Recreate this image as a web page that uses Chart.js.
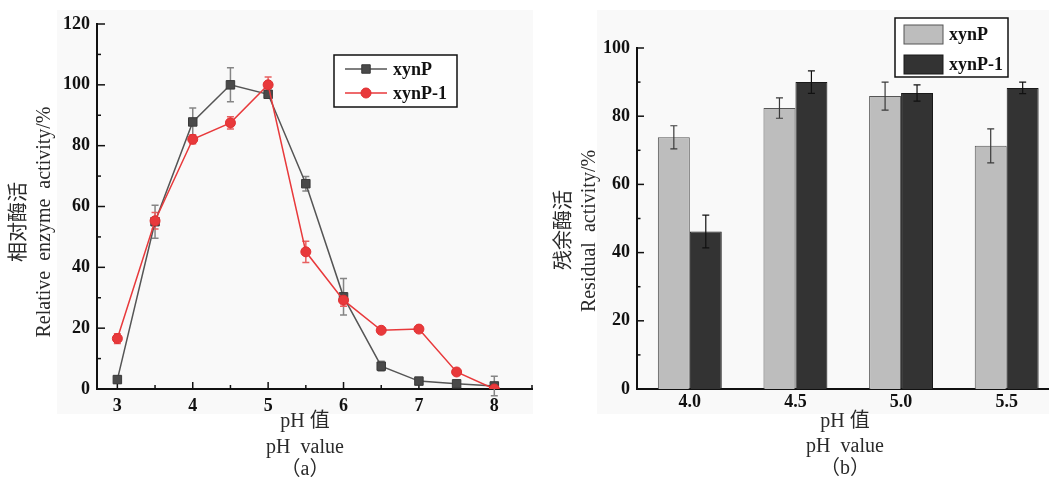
<!DOCTYPE html>
<html>
<head>
<meta charset="utf-8">
<script src="https://cdn.jsdelivr.net/npm/chart.js"></script>
<style>
  html, body { margin: 0; padding: 0; background: #fff; width: 1049px; height: 482px; overflow: hidden; }
  .panel { position: absolute; top: 10px; height: 404px; background: #f9f9f9; }
  canvas { position: absolute; top: 0; }
</style>
</head>
<body>
<div class="panel" style="left:57px;width:476px"></div>
<div class="panel" style="left:597px;width:452px"></div>
<canvas id="chartA" width="545" height="482" style="left:0"></canvas>
<canvas id="chartB" width="530" height="482" style="left:540px"></canvas>
<script>
// (a) relative activity vs pH
const phLine = [3, 3.5, 4, 4.5, 5, 5.5, 6, 6.5, 7, 7.5, 8];
const phTicks = [3, 4, 5, 6, 7, 8];
const xynPRel = [3.1, 55, 87.8, 100, 96.9, 67.5, 30.3, 7.5, 2.6, 1.7, 1.0];
const xynPRelErr = [1.2, 5.4, 4.6, 5.6, 1.0, 2.4, 6.0, 1.6, 1.0, 0.8, 3.2];
const xynP1Rel = [16.6, 55.3, 82.1, 87.5, 100, 45.1, 29.2, 19.3, 19.7, 5.6, 0];
const xynP1RelErr = [1.6, 2.7, 1.5, 2.0, 2.6, 3.5, 2.0, 0.6, 0.6, 0.6, 0];

// (b) residual activity
const phBar = ['4.0', '4.5', '5.0', '5.5'];
const xynPRes = [73.8, 82.4, 85.9, 71.3];
const xynPResErr = [3.4, 3.0, 4.1, 5.0];
const xynP1Res = [46.2, 90.0, 86.8, 88.3];
const xynP1ResErr = [4.8, 3.3, 2.4, 1.7];

const serif = "'Liberation Serif', 'Noto Sans CJK SC', serif";
const tickFont = { family: serif, size: 18, weight: 'bold' };

// tick marks pointing into the plot
const innerTicks = {
  id: 'innerTicks',
  beforeDatasetsDraw(chart, args, opts) {
    const ctx = chart.ctx;
    ctx.save();
    ctx.strokeStyle = '#111';
    ctx.lineWidth = 1.5;
    for (const id of Object.keys(opts.scales || {})) {
      const s = chart.scales[id];
      const o = opts.scales[id];
      const majors = s.ticks.map(t => t.value);
      const minors = majors.map(v => v + o.step).filter(v => v <= s.max + 1e-9);
      const mark = (v, len) => {
        const p = s.getPixelForValue(v);
        ctx.beginPath();
        if (s.isHorizontal()) { ctx.moveTo(p, s.top); ctx.lineTo(p, s.top - len); }
        else { ctx.moveTo(s.right, p); ctx.lineTo(s.right + len, p); }
        ctx.stroke();
      };
      majors.forEach(v => mark(v, o.major));
      minors.forEach(v => mark(v, o.minor));
    }
    ctx.restore();
  }
};

// error bars
function drawErrors(chart, opts) {
  const ctx = chart.ctx;
  ctx.save();
  ctx.lineWidth = opts.width || 1;
  chart.data.datasets.forEach((ds, i) => {
    if (!ds.errors) return;
    const meta = chart.getDatasetMeta(i);
    const ys = chart.scales[meta.yAxisID];
    ctx.strokeStyle = ds.errorColor;
    meta.data.forEach((el, j) => {
      const e = ds.errors[j];
      if (!e) return;
      const raw = ds.data[j];
      const v = typeof raw === 'object' ? raw.y : raw;
      const top = ys.getPixelForValue(v + e);
      const bot = ys.getPixelForValue(v - e);
      const x = el.x, c = opts.cap;
      ctx.beginPath();
      ctx.moveTo(x, top); ctx.lineTo(x, bot);
      ctx.moveTo(x - c, top); ctx.lineTo(x + c, top);
      ctx.moveTo(x - c, bot); ctx.lineTo(x + c, bot);
      ctx.stroke();
    });
  });
  ctx.restore();
}
const errorBars = {
  id: 'errorBars',
  beforeDatasetsDraw(chart, args, opts) { if (opts.layer === 'under') drawErrors(chart, opts); },
  afterDatasetsDraw(chart, args, opts) { if (opts.layer !== 'under') drawErrors(chart, opts); }
};

// axis titles / captions
const captions = {
  id: 'captions',
  afterDraw(chart, args, opts) {
    const ctx = chart.ctx;
    ctx.save();
    ctx.fillStyle = '#2a2a2a';
    ctx.font = '20px ' + serif;
    ctx.textAlign = 'center';
    ctx.textBaseline = 'middle';
    for (const c of opts.items) {
      ctx.save();
      ctx.translate(c.x, c.y);
      if (c.rotate) ctx.rotate(-Math.PI / 2);
      ctx.fillText(c.text, 0, 0);
      ctx.restore();
    }
    ctx.restore();
  }
};

// framed legend
const boxLegend = {
  id: 'boxLegend',
  afterDraw(chart, args, opts) {
    const ctx = chart.ctx;
    const b = opts.box;
    ctx.save();
    ctx.fillStyle = '#fff';
    ctx.fillRect(b.x, b.y, b.w, b.h);
    ctx.strokeStyle = '#111';
    ctx.lineWidth = 1.5;
    ctx.strokeRect(b.x, b.y, b.w, b.h);
    chart.data.datasets.forEach((ds, i) => {
      const y = opts.rows[i];
      if (opts.kind === 'line') {
        ctx.strokeStyle = ds.borderColor;
        ctx.lineWidth = ds.borderWidth;
        ctx.beginPath();
        ctx.moveTo(opts.sample[0], y); ctx.lineTo(opts.sample[1], y);
        ctx.stroke();
        ctx.fillStyle = ds.pointBackgroundColor;
        ctx.strokeStyle = ds.pointBorderColor;
        ctx.lineWidth = 1;
        Chart.helpers.drawPoint(ctx, { pointStyle: ds.pointStyle, radius: ds.pointRadius, borderWidth: 1, rotation: 0 },
          (opts.sample[0] + opts.sample[1]) / 2, y);
      } else {
        ctx.fillStyle = ds.backgroundColor;
        ctx.strokeStyle = ds.borderColor;
        ctx.lineWidth = 1;
        ctx.fillRect(opts.sample[0], y - opts.swatchH / 2, opts.sample[1] - opts.sample[0], opts.swatchH);
        ctx.strokeRect(opts.sample[0], y - opts.swatchH / 2, opts.sample[1] - opts.sample[0], opts.swatchH);
      }
      ctx.fillStyle = '#111';
      ctx.font = 'bold 18px ' + serif;
      ctx.textAlign = 'left';
      ctx.textBaseline = 'middle';
      ctx.fillText(ds.label, opts.textX, y + 1);
    });
    ctx.restore();
  }
};

const axisBorder = { display: true, color: '#111', width: 2 };

new Chart(document.getElementById('chartA'), {
  type: 'line',
  data: {
    datasets: [
      {
        label: 'xynP',
        data: phLine.map((x, i) => ({ x: x, y: xynPRel[i] })),
        errors: xynPRelErr,
        errorColor: '#858585',
        borderColor: '#555555',
        borderWidth: 1.5,
        pointStyle: 'rect',
        pointRadius: 6,
        pointBackgroundColor: '#4a4a4a',
        pointBorderColor: '#3a3a3a',
        pointBorderWidth: 1,
        order: 1
      },
      {
        label: 'xynP-1',
        data: phLine.map((x, i) => ({ x: x, y: xynP1Rel[i] })),
        errors: xynP1RelErr,
        errorColor: '#e86060',
        borderColor: '#e8393b',
        borderWidth: 1.5,
        pointStyle: 'circle',
        pointRadius: 5,
        pointBackgroundColor: '#e8393b',
        pointBorderColor: '#e02f31',
        pointBorderWidth: 1,
        order: 0
      }
    ]
  },
  options: {
    responsive: false,
    animation: false,
    layout: { padding: { top: 24, right: 13, left: 0, bottom: 0 } },
    scales: {
      x: {
        type: 'linear',
        min: 2.73,
        max: 8.5,
        afterBuildTicks: s => { s.ticks = phTicks.map(v => ({ value: v })); },
        afterFit: s => { s.height = 93; },
        grid: { display: false, drawTicks: false },
        border: axisBorder,
        ticks: { color: '#111', padding: 7, font: tickFont }
      },
      y: {
        min: 0,
        max: 120,
        afterFit: s => { s.width = 97; },
        grid: { display: false, drawTicks: false },
        border: axisBorder,
        ticks: { stepSize: 20, color: '#111', padding: 7, font: tickFont }
      }
    },
    plugins: {
      legend: { display: false },
      tooltip: { enabled: false },
      innerTicks: { scales: { x: { major: 7, minor: 4, step: 0.5 }, y: { major: 8, minor: 4, step: 10 } } },
      errorBars: { layer: 'under', cap: 3.5, width: 1.5 },
      captions: {
        items: [
          { text: '相对酶活', x: 20, y: 222, rotate: true },
          { text: 'Relative  enzyme  activity/%', x: 44.5, y: 222, rotate: true },
          { text: 'pH 值', x: 305, y: 422 },
          { text: 'pH  value', x: 305, y: 448 },
          { text: '（a）', x: 305, y: 470 }
        ]
      },
      boxLegend: { kind: 'line', box: { x: 334, y: 55, w: 123, h: 52 }, rows: [69, 93], sample: [345, 387], textX: 393 }
    }
  },
  plugins: [innerTicks, errorBars, captions, boxLegend]
});

new Chart(document.getElementById('chartB'), {
  type: 'bar',
  data: {
    labels: phBar,
    datasets: [
      {
        label: 'xynP',
        data: xynPRes,
        errors: xynPResErr,
        errorColor: '#3a3a3a',
        backgroundColor: '#bdbdbd',
        borderColor: '#555555',
        borderWidth: 1
      },
      {
        label: 'xynP-1',
        data: xynP1Res,
        errors: xynP1ResErr,
        errorColor: '#111111',
        backgroundColor: '#333333',
        borderColor: '#1a1a1a',
        borderWidth: 1
      }
    ]
  },
  options: {
    responsive: false,
    animation: false,
    layout: { padding: { top: 48, right: 10.5, left: 0, bottom: 0 } },
    datasets: { bar: { barPercentage: 1, categoryPercentage: 0.605 } },
    scales: {
      x: {
        afterFit: s => { s.height = 93; },
        grid: { display: false, drawTicks: false },
        border: axisBorder,
        ticks: { color: '#111', padding: 3, font: tickFont }
      },
      y: {
        min: 0,
        max: 100,
        afterFit: s => { s.width = 97; },
        grid: { display: false, drawTicks: false },
        border: axisBorder,
        ticks: { stepSize: 20, color: '#111', padding: 7, font: tickFont }
      }
    },
    plugins: {
      legend: { display: false },
      tooltip: { enabled: false },
      innerTicks: { scales: { y: { major: 7, minor: 3.5, step: 10 } } },
      errorBars: { layer: 'over', cap: 3.5, width: 1.2 },
      captions: {
        items: [
          { text: '残余酶活', x: 25, y: 230, rotate: true },
          { text: 'Residual  activity/%', x: 50, y: 231, rotate: true },
          { text: 'pH 值', x: 305, y: 422 },
          { text: 'pH  value', x: 305, y: 447 },
          { text: '（b）', x: 305, y: 469 }
        ]
      },
      boxLegend: { kind: 'bar', box: { x: 355, y: 18, w: 113, h: 59 }, rows: [34.5, 64.5], sample: [364, 403], swatchH: 19, textX: 409 }
    }
  },
  plugins: [innerTicks, errorBars, captions, boxLegend]
});
</script>
</body>
</html>
